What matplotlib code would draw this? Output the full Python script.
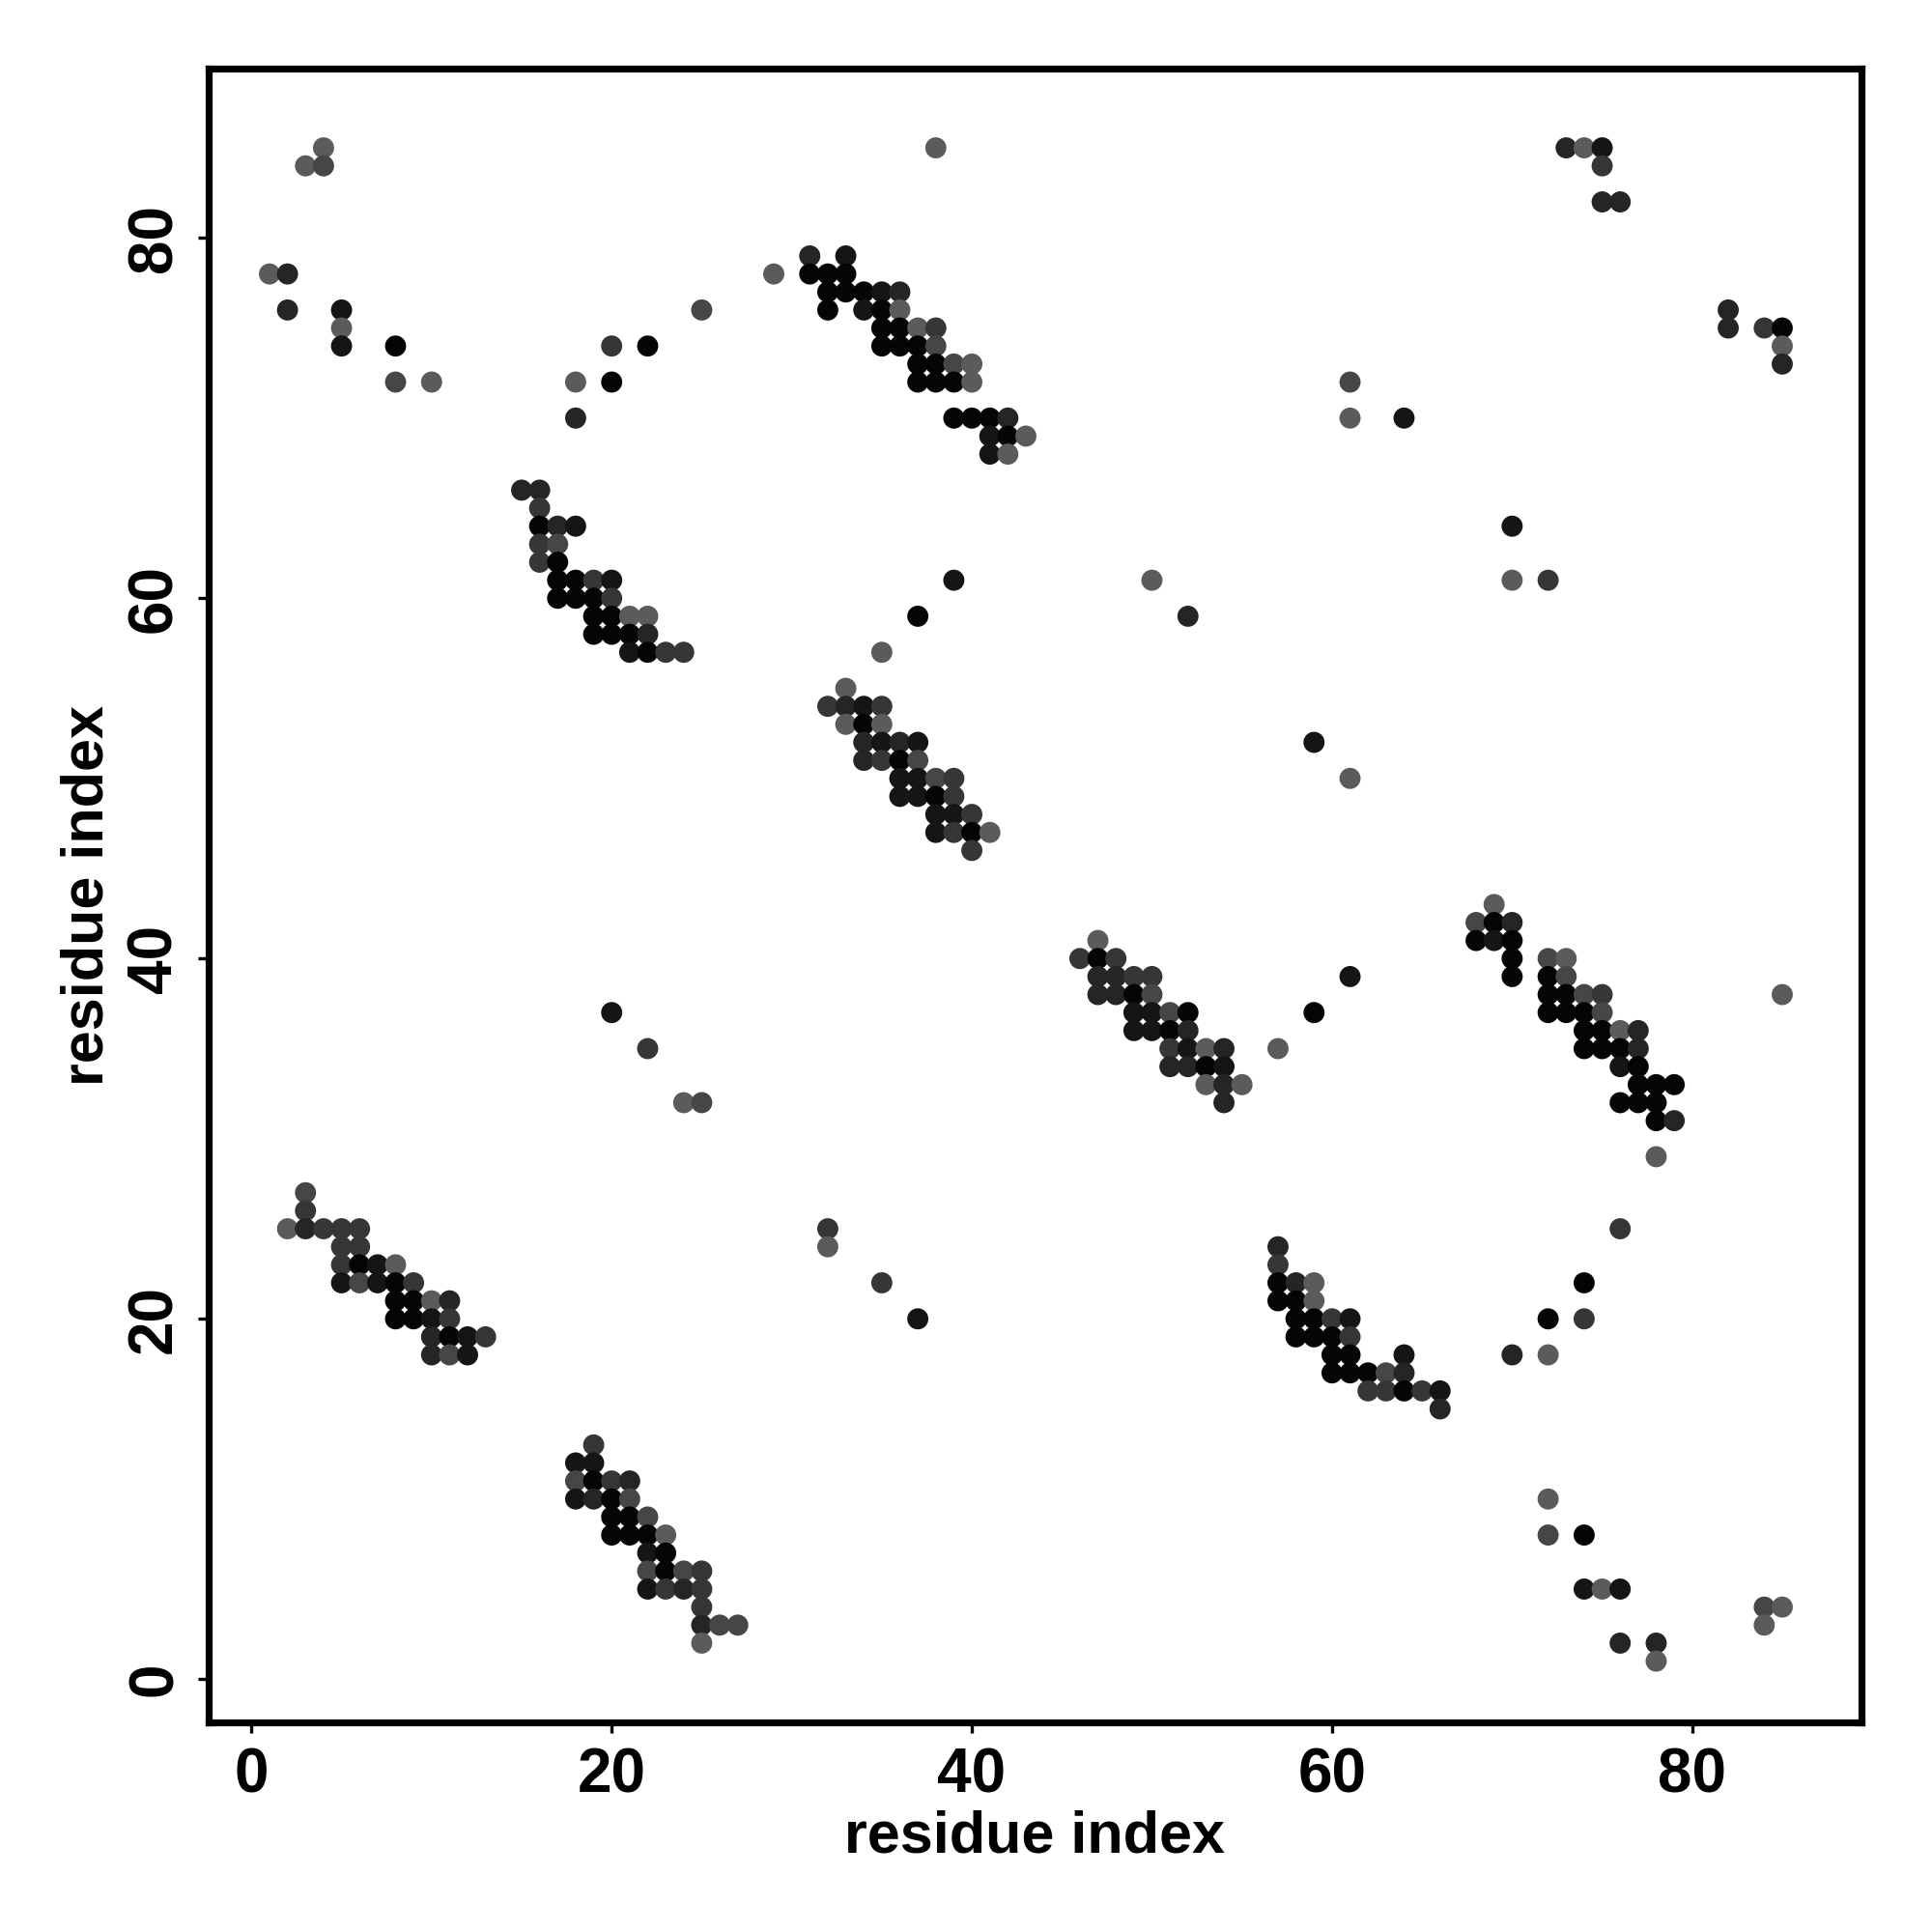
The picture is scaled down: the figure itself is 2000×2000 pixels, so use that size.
import matplotlib
matplotlib.use("Agg")
import matplotlib.pyplot as plt
import numpy as np

# contact probability levels (darker = higher)
B, V, D, M, L2, L = 0.95, 0.8, 0.65, 0.5, 0.35, 0.15

# (i, j, p) contacts
top_left = [(4,85,L),(3,84,L),(4,84,L2),(1,78,L),(2,78,D),(2,76,D),(5,76,V),(5,75,L),(5,74,V),
            (8,74,B),(8,72,L2),(10,72,L),(18,72,L),(20,72,B),(20,74,M),(22,74,B),(18,70,D),
            (25,76,L2),(29,78,L)]
cluster_a = [(15,66,D),(16,66,D),(16,65,M),(16,64,B),(17,64,D),(18,64,V),(16,63,M),(17,63,L2),
             (16,62,M),(17,62,B),
             (17,61,B),(18,61,B),(19,61,M),(20,61,V),
             (17,60,B),(18,60,B),(19,60,B),(20,60,M),
             (19,59,B),(20,59,B),(21,59,L),(22,59,L),
             (19,58,B),(20,58,B),(21,58,B),(22,58,D),
             (21,57,V),(22,57,B),(23,57,M),(24,57,M)]
cluster_b = [(38,85,L),(31,79,D),(33,79,V),
             (31,78,B),(32,78,B),(33,78,B),
             (32,77,B),(33,77,B),(34,77,B),(35,77,V),(36,77,D),
             (32,76,B),(34,76,V),(35,76,B),(36,76,L),
             (35,75,B),(36,75,B),(37,75,L),(38,75,M),
             (35,74,B),(36,74,B),(37,74,B),(38,74,L2),
             (37,73,B),(38,73,B),(39,73,L2),(40,73,L),
             (37,72,B),(38,72,B),(39,72,B),(40,72,L),
             (39,70,B),(40,70,B),(41,70,B),(42,70,D),
             (41,69,V),(42,69,B),(43,69,L),
             (41,68,V),(42,68,L)]
scattered_mid = [(39,61,V),(50,61,L),(37,59,B),(52,59,D),(35,57,L),
                 (59,52,V),(61,50,L),(61,39,V),(59,37,B),(57,35,L),
                 (20,37,V),(22,35,M),(24,32,L),(25,32,L2)]
top_right = [(73,85,D),(74,85,L),(75,85,V),(75,84,M),(75,82,D),(76,82,D),
             (82,76,D),(82,75,D),(84,75,M),(85,75,B),(85,74,L),(85,73,D),
             (61,72,L2),(61,70,L),(64,70,V),(70,64,V),(70,61,L),(72,61,M)]
cluster_c = [(33,55,L),
             (32,54,M),(33,54,D),(34,54,V),(35,54,M),
             (33,53,L),(34,53,B),(35,53,L),
             (34,52,D),(35,52,V),(36,52,D),(37,52,V),
             (34,51,D),(35,51,M),(36,51,B),(37,51,L2),
             (36,50,V),(37,50,V),(38,50,L2),(39,50,M),
             (36,49,V),(37,49,V),(38,49,B),(39,49,M),
             (38,48,V),(39,48,V),(40,48,M),
             (38,47,V),(39,47,M),(40,47,B),(41,47,L),
             (40,46,M)]
cluster_d = [(47,41,L),
             (46,40,M),(47,40,B),(48,40,M),
             (47,39,D),(48,39,D),(49,39,M),(50,39,M),
             (47,38,D),(48,38,D),(49,38,B),(50,38,L2),
             (49,37,V),(50,37,V),(51,37,L2),(52,37,B),
             (49,36,V),(50,36,V),(51,36,B),(52,36,D),
             (51,35,M),(52,35,V),(53,35,L),(54,35,D),
             (51,34,D),(52,34,D),(53,34,B),(54,34,V),
             (53,33,L),(54,33,D),(55,33,L),
             (54,32,D)]
cluster_e = [(69,43,L),
             (68,42,L2),(69,42,B),(70,42,D),
             (68,41,B),(69,41,V),(70,41,B),
             (70,40,B),(72,40,L2),(73,40,L),
             (70,39,B),(72,39,B),(73,39,L2),
             (72,38,B),(73,38,B),(74,38,L2),(75,38,M),
             (72,37,B),(73,37,B),(74,37,B),(75,37,L2),
             (74,36,B),(75,36,B),(76,36,L),(77,36,D),
             (74,35,B),(75,35,B),(76,35,B),(77,35,D),
             (76,34,V),(77,34,B),
             (77,33,B),(78,33,B),(79,33,B),
             (76,32,B),(77,32,B),(78,32,B),
             (78,31,B),(79,31,D),
             (78,29,L),(85,38,L)]
cluster_f = [(3,27,L2),(3,26,M),
             (2,25,L),(3,25,D),(4,25,M),(5,25,M),(6,25,M),
             (5,24,M),(6,24,M),
             (5,23,M),(6,23,B),(7,23,V),(8,23,L),
             (5,22,V),(6,22,L2),(7,22,V),(8,22,B),(9,22,M),
             (8,21,B),(9,21,B),(10,21,L),(11,21,D),
             (8,20,B),(9,20,B),(10,20,V),(11,20,M),
             (10,19,D),(11,19,B),(12,19,V),(13,19,M),
             (10,18,D),(11,18,L2),(12,18,V)]
cluster_g = [(19,13,M),
             (18,12,V),(19,12,V),
             (18,11,L2),(19,11,B),(20,11,M),(21,11,D),
             (18,10,V),(19,10,D),(20,10,B),(21,10,L2),
             (20,9,B),(21,9,B),(22,9,L2),
             (20,8,B),(21,8,B),(22,8,B),(23,8,L),
             (22,7,V),(23,7,B),
             (22,6,L2),(23,6,B),(24,6,L2),(25,6,M),
             (22,5,V),(23,5,M),(24,5,D),(25,5,M),
             (25,4,M),
             (25,3,D),(26,3,L2),(27,3,L2),
             (25,2,L)]
bottom_mid = [(32,25,M),(32,24,L),(35,22,M),(37,20,V)]
cluster_h = [(57,24,D),(57,23,M),
             (57,22,B),(58,22,D),(59,22,L),
             (57,21,B),(58,21,B),(59,21,L),
             (58,20,B),(59,20,B),(60,20,M),(61,20,V),
             (58,19,B),(59,19,B),(60,19,B),(61,19,M),
             (60,18,B),(61,18,B),(64,18,V),
             (60,17,B),(61,17,B),(62,17,B),(63,17,L2),(64,17,D),
             (62,16,M),(63,16,M),(64,16,B),(65,16,M),(66,16,V),
             (66,15,D)]
bottom_right = [(76,25,M),(74,22,B),(72,20,B),(74,20,M),(70,18,D),(72,18,L),
                (72,10,L),(72,8,L2),(74,8,B),(74,5,V),(75,5,L),(76,5,V),
                (76,2,D),(78,2,D),(78,1,L),(84,4,L2),(85,4,L),(84,3,L)]

contacts = np.array(top_left + cluster_a + cluster_b + scattered_mid + top_right +
                    cluster_c + cluster_d + cluster_e + cluster_f + cluster_g +
                    bottom_mid + cluster_h + bottom_right)
res_i = contacts[:, 0]
res_j = contacts[:, 1]
prob = contacts[:, 2]

ticks = [0, 20, 40, 60, 80]

font = ['Liberation Sans Narrow', 'Liberation Sans', 'DejaVu Sans']
plt.rcParams['font.family'] = font
plt.rcParams['font.weight'] = 'bold'

fig = plt.figure(figsize=(10, 10), dpi=200)
ax = fig.add_axes([0.1078, 0.1085, 0.8557, 0.856])

grey = 0.42 - 0.42 * prob
colors = np.stack([grey, grey, grey], axis=1)
ax.scatter(res_i, res_j, s=62, c=colors, edgecolors='none', zorder=3)

ax.set_xlim(-2.4, 89.4)
ax.set_ylim(-2.4, 89.4)
ax.set_xticks(ticks)
ax.set_yticks(ticks)
ax.tick_params(direction='out', length=4, width=1.2, labelsize=23, pad=5)
for lab in ax.get_yticklabels():
    lab.set_rotation(90)
    lab.set_va('center')
for lab in ax.get_xticklabels() + ax.get_yticklabels():
    lab.set_fontweight('bold')
for sp in ax.spines.values():
    sp.set_linewidth(2.6)

ax.set_xlabel('residue index', fontsize=22, fontweight='bold', labelpad=2)
ax.set_ylabel('residue index', fontsize=22, fontweight='bold', labelpad=4)

fig.savefig('out.png', dpi=200)
